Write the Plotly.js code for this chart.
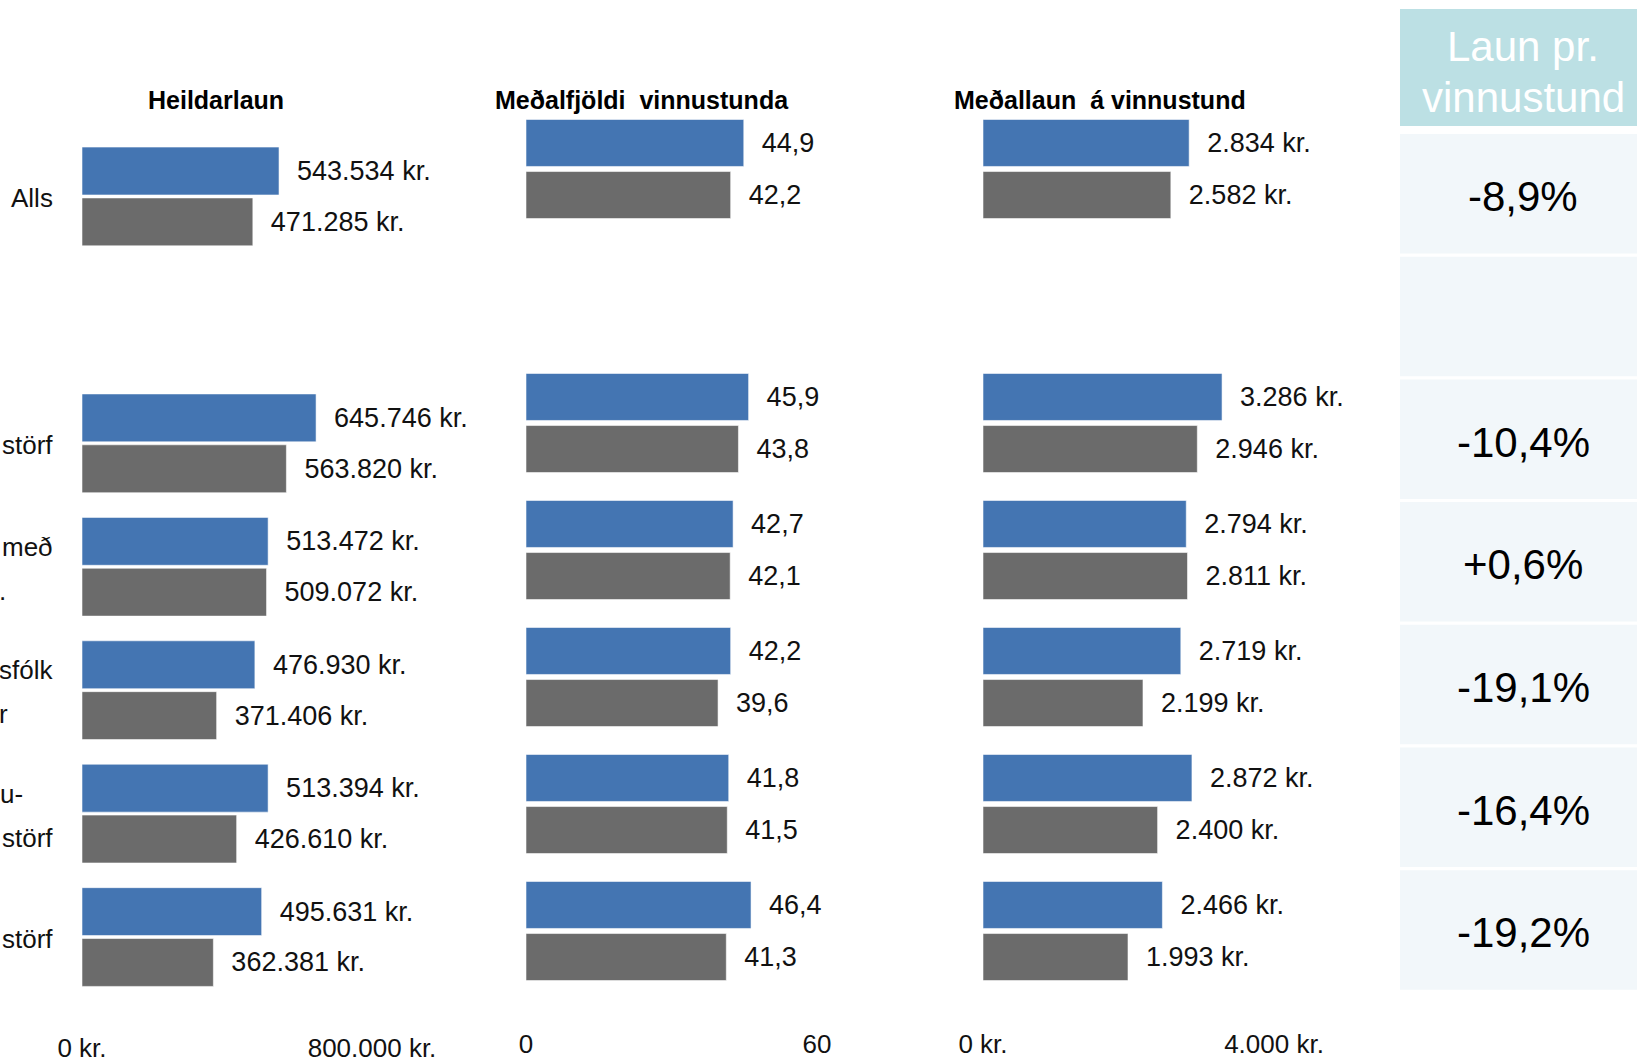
<!DOCTYPE html>
<html>
<head>
<meta charset="utf-8">
<script src="https://cdn.plot.ly/plotly-3.0.1.min.js"></script>
<style>
html, body { margin: 0; padding: 0; background: #ffffff; }
#chart { width: 1637px; height: 1063px; }
</style>
</head>
<body>
<div id="chart"></div>
<script>
// ---------- DATA ----------
const rowLabels = [['Alls'], [], ['störf'], ['með', '.'], ['sfólk', 'r'], ['u-', 'störf'], ['störf']];
const panelTitles = ['Heildarlaun', 'Meðalfjöldi\u00a0\u00a0vinnustunda', 'Meðallaun\u00a0\u00a0á vinnustund'];

const heildarlaunBlue = [543534, null, 645746, 513472, 476930, 513394, 495631];
const heildarlaunGray = [471285, null, 563820, 509072, 371406, 426610, 362381];

const stundirBlue = [44.9, null, 45.9, 42.7, 42.2, 41.8, 46.4];
const stundirGray = [42.2, null, 43.8, 42.1, 39.6, 41.5, 41.3];

const launStundBlue = [2834, null, 3286, 2794, 2719, 2872, 2466];
const launStundGray = [2582, null, 2946, 2811, 2199, 2400, 1993];

const tableHeader = ['Laun pr.', 'vinnustund'];
const tableChanges = ['-8,9%', '', '-10,4%', '+0,6%', '-19,1%', '-16,4%', '-19,2%'];

const axisTicks1 = [0, 800000];
const axisTicks2 = [0, 60];
const axisTicks3 = [0, 4000];
const krSuffix = ' kr.';

// ---------- STYLE / LAYOUT ----------
const W = 1637, H = 1063;
const px = x => x / W;
const py = y => 1 - y / H;
const FONT = '"Liberation Sans", Arial, sans-serif';
const BLUE = '#4475B2';
const GRAY = '#6B6B6B';
const TXT = '#111111';

function thousands(v) {
  return String(Math.round(v)).replace(/\B(?=(\d{3})+(?!\d))/g, '.');
}

function barTrace(vals, color, xa, ya, offset, width, tmpl) {
  const idx = [];
  vals.forEach((v, i) => { if (v !== null) idx.push(i); });
  return {
    type: 'bar', orientation: 'h',
    x: idx.map(i => vals[i]), y: idx,
    xaxis: xa, yaxis: ya,
    offset: offset, width: width,
    marker: { color: color, line: { color: 'rgba(255,255,255,0.55)', width: 1 } },
    texttemplate: tmpl, textposition: 'outside',
    textfont: { family: FONT, size: 27, color: TXT },
    constraintext: 'none', cliponaxis: false,
    hoverinfo: 'skip', showlegend: false
  };
}

const krTmpl = '\u00a0\u00a0%{x:,.0f} kr.';
const hTmpl = '\u00a0\u00a0%{x:.1f}';

const data = [
  barTrace(heildarlaunBlue, BLUE, 'x', 'y', -0.40, 0.388, krTmpl),
  barTrace(heildarlaunGray, GRAY, 'x', 'y', 0.012, 0.388, krTmpl),
  barTrace(stundirBlue, BLUE, 'x2', 'y2', -0.39, 0.37, hTmpl),
  barTrace(stundirGray, GRAY, 'x2', 'y2', 0.02, 0.37, hTmpl),
  barTrace(launStundBlue, BLUE, 'x3', 'y2', -0.39, 0.37, krTmpl),
  barTrace(launStundGray, GRAY, 'x3', 'y2', 0.02, 0.37, krTmpl)
];

function xAxis(domPx, range, ticks, suffix, anchor, standoff) {
  return {
    domain: [px(domPx[0]), px(domPx[1])], range: range, anchor: anchor,
    showgrid: false, zeroline: false, showline: false,
    tickmode: 'array', tickvals: ticks,
    ticktext: ticks.map(v => thousands(v) + suffix),
    ticks: '', ticklabelstandoff: standoff,
    tickfont: { family: FONT, size: 26, color: TXT },
    fixedrange: true
  };
}
function yAxis(topPx, botPx) {
  return {
    domain: [py(botPx), py(topPx)], range: [6.5, -0.5],
    showgrid: false, zeroline: false, showline: false, showticklabels: false,
    ticks: '', fixedrange: true
  };
}

const annotations = [];
const shapes = [];

// panel titles
const titleX = [216, 642, 1100];
panelTitles.forEach((t, i) => {
  annotations.push({
    text: '<b>' + t + '</b>', xref: 'paper', yref: 'paper',
    x: px(titleX[i]), y: py(100), xanchor: 'center', yanchor: 'middle',
    showarrow: false, font: { family: FONT, size: 25, color: '#000' }
  });
});

// row labels (clipped at the left edge in the reference)
const labelRight = [[55], [], [55], [55, 8], [55, 10], [25, 55], [55]];
rowLabels.forEach((lines, r) => {
  lines.forEach((ln, k) => {
    const shift = lines.length === 1 ? -2 : (k === 0 ? 20 : -24);
    annotations.push({
      text: ln, xref: 'paper', yref: 'y', x: px(labelRight[r][k]), y: r,
      yshift: shift, xanchor: 'right', yanchor: 'middle', showarrow: false,
      font: { family: FONT, size: 26, color: TXT }
    });
  });
});

// table on the right
const tblX0 = 1400, tblX1 = 1660;
shapes.push({
  type: 'rect', xref: 'paper', yref: 'paper', layer: 'below',
  x0: px(tblX0), x1: px(tblX1), y0: py(126), y1: py(9),
  fillcolor: '#BCE0E4', line: { width: 0 }
});
const hdrY = [47, 97];
tableHeader.forEach((t, i) => {
  annotations.push({
    text: t, xref: 'paper', yref: 'paper', x: px(1523), y: py(hdrY[i]),
    xanchor: 'center', yanchor: 'middle', showarrow: false,
    font: { family: FONT, size: 42, color: '#ffffff' }
  });
});
const rowTop = 134, rowPitch = 122.7, rowH = 119.5;
tableChanges.forEach((t, i) => {
  const t0 = rowTop + i * rowPitch;
  shapes.push({
    type: 'rect', xref: 'paper', yref: 'paper', layer: 'below',
    x0: px(tblX0), x1: px(tblX1), y0: py(t0 + rowH), y1: py(t0),
    fillcolor: '#F2F7FA', line: { width: 0 }
  });
  if (t) {
    annotations.push({
      text: t, xref: 'paper', yref: 'paper', x: px(1523), y: py(t0 + rowH / 2 + 3),
      xanchor: 'center', yanchor: 'middle', showarrow: false,
      font: { family: FONT, size: 42, color: '#000000' }
    });
  }
});

const layout = {
  width: W, height: H,
  margin: { l: 0, r: 0, t: 0, b: 0 },
  paper_bgcolor: '#ffffff', plot_bgcolor: 'rgba(0,0,0,0)',
  barmode: 'overlay',
  separators: ',.',
  showlegend: false,
  xaxis: xAxis([82, 372], [0, 800000], axisTicks1, krSuffix, 'y', 31),
  xaxis2: xAxis([526, 817], [0, 60], axisTicks2, '', 'y2', 31),
  xaxis3: xAxis([983, 1274], [0, 4000], axisTicks3, krSuffix, 'y2', 31),
  yaxis: yAxis(134.75, 998.75),
  yaxis2: yAxis(105.5, 994.5),
  annotations: annotations,
  shapes: shapes
};

Plotly.newPlot('chart', data, layout, { displayModeBar: false, staticPlot: true });
</script>
</body>
</html>
